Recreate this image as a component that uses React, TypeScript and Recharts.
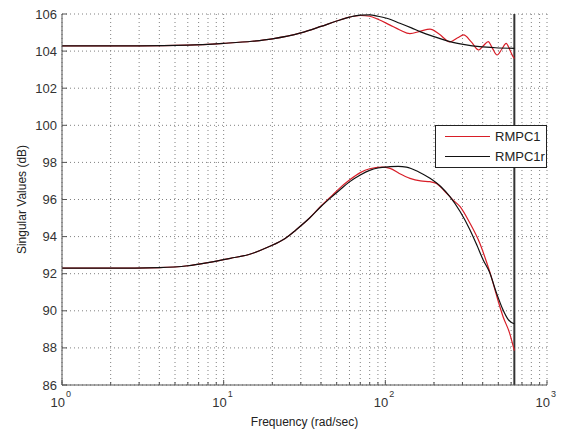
import React from "react";
import { LineChart, Line, XAxis, YAxis, CartesianGrid, ReferenceLine, Legend, Label } from "recharts";

// frequencies in rad/sec, singular values in dB
const upperBlackFreq = [1, 3, 6, 10, 15, 20, 30, 40, 50, 60, 70, 80, 90, 102, 123, 145, 164, 200, 251, 310, 384, 480, 628];
const upperBlack = [104.28, 104.28, 104.32, 104.42, 104.53, 104.66, 104.98, 105.33, 105.62, 105.83, 105.94, 105.95, 105.88, 105.77, 105.5, 105.25, 105.05, 104.78, 104.51, 104.35, 104.24, 104.18, 104.15];

const upperRedFreq = [1, 3, 6, 10, 15, 20, 30, 40, 50, 60, 70, 80, 90, 107, 123, 142, 165, 189, 215, 251, 280, 305, 340, 378, 405, 433, 460, 491, 525, 559, 590, 617, 628];
const upperRed = [104.28, 104.28, 104.32, 104.42, 104.53, 104.66, 104.98, 105.33, 105.62, 105.83, 105.92, 105.88, 105.72, 105.4, 105.14, 104.94, 105.08, 105.18, 104.92, 104.5, 104.72, 104.87, 104.5, 104.06, 104.3, 104.51, 104.15, 103.79, 104.1, 104.42, 104.05, 103.7, 103.6];

const lowerBlackFreq = [1, 2, 4, 6, 8, 11, 14.5, 19, 24, 28, 34, 40, 46, 52, 60, 70, 80, 90, 107, 120, 135, 160, 189, 220, 251, 290, 334, 370, 403, 440, 488, 535, 573, 600, 628];
const lowerBlack = [92.3, 92.3, 92.33, 92.43, 92.6, 92.83, 93.05, 93.45, 93.9, 94.36, 95.0, 95.62, 96.1, 96.5, 96.95, 97.32, 97.57, 97.7, 97.77, 97.79, 97.75, 97.5, 97.14, 96.7, 96.15, 95.35, 94.36, 93.5, 92.74, 92.1, 90.94, 90.04, 89.55, 89.38, 89.3];

const lowerRedFreq = [1, 2, 4, 6, 8, 11, 14.5, 19, 24, 28, 34, 40, 46, 52, 60, 70, 80, 95, 107, 122, 142, 165, 189, 207, 230, 260, 290, 330, 384, 420, 450, 483, 535, 587, 628];
const lowerRed = [92.3, 92.3, 92.33, 92.43, 92.6, 92.83, 93.05, 93.45, 93.9, 94.36, 95.0, 95.65, 96.15, 96.6, 97.05, 97.45, 97.66, 97.75, 97.68, 97.4, 97.14, 97.0, 96.96, 96.87, 96.5, 96.0, 95.61, 94.8, 93.64, 92.7, 91.9, 90.95, 89.68, 88.8, 87.85];

const xTicks = [1, 2, 3, 4, 5, 6, 7, 8, 9, 10, 20, 30, 40, 50, 60, 70, 80, 90, 100, 200, 300, 400, 500, 600, 700, 800, 900, 1000];
const yTicks = [86, 88, 90, 92, 94, 96, 98, 100, 102, 104, 106];
const nyquist = 628;

const RED = "#d81e28";
const BLACK = "#111111";
const AXIS = "#555555";
const FONT = "'Liberation Sans', Arial, sans-serif";

const toPoints = (freq: number[], vals: number[]) => freq.map((f, i) => ({ f, v: vals[i] }));

const isDecade = (v: number) => {
    const lg = Math.log10(v);
    return Math.abs(lg - Math.round(lg)) < 1e-6;
};

const BottomTick = (props: any) => {
    const { x, y, payload } = props;
    const major = isDecade(payload.value);
    const exp = Math.round(Math.log10(payload.value));
    return (
        <g>
            <line x1={x} x2={x} y1={y} y2={y - (major ? 5 : 3)} stroke={AXIS} />
            {major && (
                <>
                    <text x={x + 3} y={y + 22} textAnchor="end" fontSize={13} fill="#333" fontFamily={FONT}>10</text>
                    <text x={x + 4} y={y + 12} fontSize={9} fill="#333" fontFamily={FONT}>{exp}</text>
                </>
            )}
        </g>
    );
};

const TopTick = (props: any) => {
    const { x, y, payload } = props;
    const major = isDecade(payload.value);
    return <line x1={x} x2={x} y1={y} y2={y + (major ? 5 : 3)} stroke={AXIS} />;
};

const LeftTick = (props: any) => {
    const { x, y, payload } = props;
    return (
        <g>
            <line x1={x} x2={x + 5} y1={y} y2={y} stroke={AXIS} />
            <text x={x - 5} y={y + 4.5} textAnchor="end" fontSize={13} fill="#333" fontFamily={FONT}>{payload.value}</text>
        </g>
    );
};

const RightTick = (props: any) => {
    const { x, y } = props;
    return <line x1={x} x2={x - 5} y1={y} y2={y} stroke={AXIS} />;
};

const renderLegend = (props: any) => {
    const items = (props.payload || []).filter((p: any) => p.type !== "none");
    return (
        <div style={{ width: 112, height: 43, border: "1px solid #222", background: "#fff", boxSizing: "border-box", paddingTop: 1 }}>
            {items.map((item: any) => (
                <div key={item.value} style={{ display: "flex", alignItems: "center", height: 19.5 }}>
                    <svg width={59} height={19}>
                        <line x1={9} x2={54} y1={9.5} y2={9.5} stroke={item.color || item.payload?.stroke} strokeWidth={1.2} />
                    </svg>
                    <span style={{ fontFamily: FONT, fontSize: 13, color: "#222" }}>{item.value}</span>
                </div>
            ))}
        </div>
    );
};

export default function App() {
    return (
        <div style={{ position: "absolute", left: 0, top: 0, width: 561, height: 432, background: "#fff" }}>
            <LineChart width={561} height={432} margin={{ top: 14, right: 14, left: 0, bottom: 0 }}>
                <CartesianGrid stroke="#808080" strokeDasharray="1 3" />
                <XAxis
                    dataKey="f"
                    type="number"
                    scale="log"
                    domain={[1, 1000]}
                    ticks={xTicks}
                    interval={0}
                    allowDataOverflow
                    height={47}
                    tickSize={0}
                    tickMargin={0}
                    tick={<BottomTick />}
                    stroke={AXIS}
                >
                    <Label
                        content={({ viewBox }: any) => (
                            <text x={viewBox.x + viewBox.width / 2} y={viewBox.y + 41} textAnchor="middle" fontSize={12} fill="#222" fontFamily={FONT}>
                                Frequency (rad/sec)
                            </text>
                        )}
                    />
                </XAxis>
                <XAxis
                    xAxisId="top"
                    orientation="top"
                    dataKey="f"
                    type="number"
                    scale="log"
                    domain={[1, 1000]}
                    ticks={xTicks}
                    interval={0}
                    allowDataOverflow
                    height={0}
                    tickSize={0}
                    tickMargin={0}
                    tick={<TopTick />}
                    stroke={AXIS}
                />
                <YAxis
                    type="number"
                    domain={[86, 106]}
                    ticks={yTicks}
                    interval={0}
                    width={62}
                    tickSize={0}
                    tickMargin={0}
                    tick={<LeftTick />}
                    stroke={AXIS}
                >
                    <Label
                        content={({ viewBox }: any) => {
                            const cx = viewBox.x + 26;
                            const cy = viewBox.y + viewBox.height / 2;
                            return (
                                <text x={cx} y={cy} transform={`rotate(-90, ${cx}, ${cy})`} textAnchor="middle" fontSize={12} fill="#222" fontFamily={FONT}>
                                    Singular Values (dB)
                                </text>
                            );
                        }}
                    />
                </YAxis>
                <YAxis
                    yAxisId="right"
                    orientation="right"
                    type="number"
                    domain={[86, 106]}
                    ticks={yTicks}
                    interval={0}
                    width={0}
                    tickSize={0}
                    tickMargin={0}
                    tick={<RightTick />}
                    stroke={AXIS}
                />
                <ReferenceLine x={nyquist} stroke="#333" strokeWidth={2} />
                <Line data={toPoints(upperRedFreq, upperRed)} dataKey="v" name="RMPC1" type="monotone" stroke={RED} strokeWidth={1.2} dot={false} isAnimationActive={false} />
                <Line data={toPoints(upperBlackFreq, upperBlack)} dataKey="v" name="RMPC1r" type="monotone" stroke={BLACK} strokeWidth={1.2} dot={false} isAnimationActive={false} />
                <Line data={toPoints(lowerRedFreq, lowerRed)} dataKey="v" name="RMPC1 " legendType="none" type="monotone" stroke={RED} strokeWidth={1.2} dot={false} isAnimationActive={false} />
                <Line data={toPoints(lowerBlackFreq, lowerBlack)} dataKey="v" name="RMPC1r " legendType="none" type="monotone" stroke={BLACK} strokeWidth={1.2} dot={false} isAnimationActive={false} />
                <Legend
                    layout="horizontal"
                    verticalAlign="middle"
                    align="center"
                    content={renderLegend}
                    wrapperStyle={{ position: "absolute", left: 435, top: 125, width: 112 }}
                />
            </LineChart>
        </div>
    );
}
